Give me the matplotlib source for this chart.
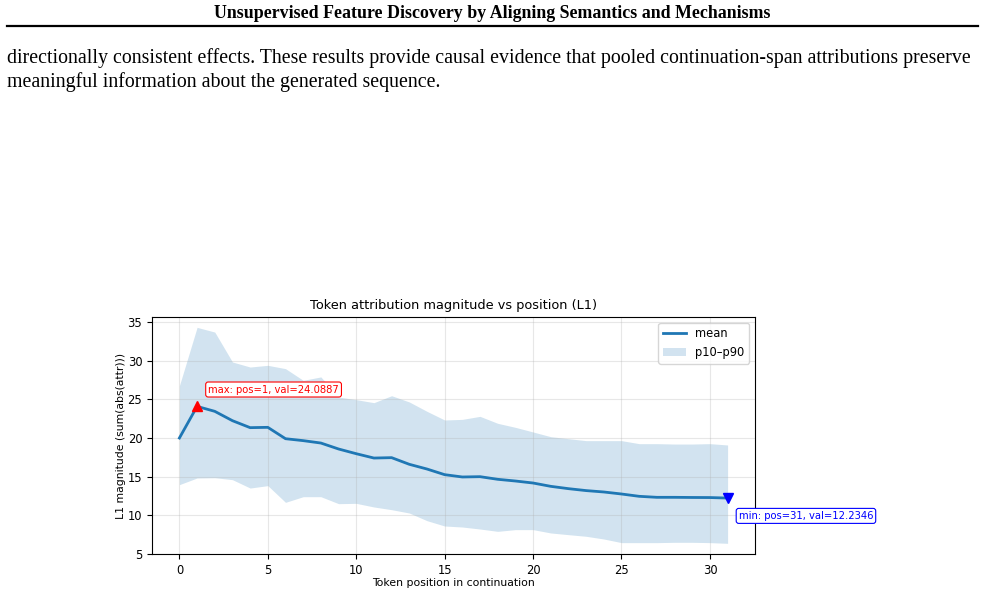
import matplotlib.pyplot as plt
from matplotlib.lines import Line2D
import numpy as np

# values
positions = list(range(32))
mean_vals = [20.0, 24.0887, 23.45, 22.24, 21.34, 21.38, 19.91, 19.66, 19.35, 18.58,
             17.97, 17.41, 17.46, 16.6, 15.99, 15.26, 14.96, 15.0, 14.66, 14.44,
             14.18, 13.75, 13.45, 13.2, 13.02, 12.76, 12.46, 12.33, 12.33, 12.31,
             12.3, 12.2346]
p90_vals = [26.77, 34.31, 33.7, 29.83, 29.18, 29.4, 28.97, 27.46, 27.9, 25.3,
            24.96, 24.57, 25.47, 24.66, 23.45, 22.33, 22.41, 22.8, 21.9, 21.38,
            20.78, 20.17, 19.91, 19.66, 19.66, 19.66, 19.27, 19.27, 19.22, 19.22,
            19.27, 19.1]
p10_vals = [13.97, 14.83, 14.87, 14.61, 13.53, 13.84, 11.68, 12.41, 12.41, 11.51,
            11.55, 11.08, 10.73, 10.3, 9.31, 8.62, 8.49, 8.23, 7.93, 8.15,
            8.15, 7.72, 7.5, 7.29, 6.94, 6.47, 6.47, 6.47, 6.51, 6.51,
            6.47, 6.38]

header = "Unsupervised Feature Discovery by Aligning Semantics and Mechanisms"
body1 = ("directionally consistent effects. These results provide causal evidence that "
         "pooled continuation-span attributions preserve")
body2 = "meaningful information about the generated sequence."

fig = plt.figure(figsize=(9.85, 5.95), dpi=100)

# page header + paragraph
fig.text(0.5, 1 - 14/595, header, ha='center', va='center',
         family='Liberation Serif', weight='bold', fontsize=12.85)
fig.add_artist(Line2D([7/985, 978/985], [1 - 26/595, 1 - 26/595],
                      color='black', lw=1.6))
fig.text(7/985, 1 - 58/595, body1, ha='left', va='center',
         family='Liberation Serif', fontsize=14.35)
fig.text(7/985, 1 - 82/595, body2, ha='left', va='center',
         family='Liberation Serif', fontsize=14.35)

ax = fig.add_axes([152/985, 41/595, 603/985, 237/595])
ax.fill_between(positions, p10_vals, p90_vals, color='#1f77b4', alpha=0.2,
                lw=0, label='p10–p90')
ax.plot(positions, mean_vals, color='#1f77b4', lw=2, label='mean')

imax = int(np.argmax(mean_vals))
imin = int(np.argmin(mean_vals))
ax.plot(positions[imax], mean_vals[imax], '^', color='red', ms=7)
ax.plot(positions[imin], mean_vals[imin], 'v', color='blue', ms=7)
ax.annotate(f"max: pos={imax}, val={mean_vals[imax]:.4f}",
            xy=(positions[imax], mean_vals[imax]), xytext=(8, 10),
            textcoords='offset points', color='red', fontsize=7.2,
            bbox=dict(boxstyle='round,pad=0.25', fc='white', ec='red', lw=0.8))
ax.annotate(f"min: pos={imin}, val={mean_vals[imin]:.4f}",
            xy=(positions[imin], mean_vals[imin]), xytext=(8, -15),
            textcoords='offset points', color='blue', fontsize=7.2,
            bbox=dict(boxstyle='round,pad=0.25', fc='white', ec='blue', lw=0.8),
            annotation_clip=False)

ax.set_xlim(-1.55, 32.55)
ax.set_ylim(5, 35.65)
ax.grid(True, alpha=0.3)
ax.tick_params(labelsize=8.3)
ax.set_title("Token attribution magnitude vs position (L1)", fontsize=9.3)
ax.set_xlabel("Token position in continuation", fontsize=7.8, labelpad=1)
ax.set_ylabel("L1 magnitude (sum(abs(attr)))", fontsize=7.8, labelpad=1)
handles, labels = ax.get_legend_handles_labels()
ax.legend(handles[::-1], labels[::-1], loc='upper right', fontsize=8.3)

fig.savefig("out.png", dpi=100)
